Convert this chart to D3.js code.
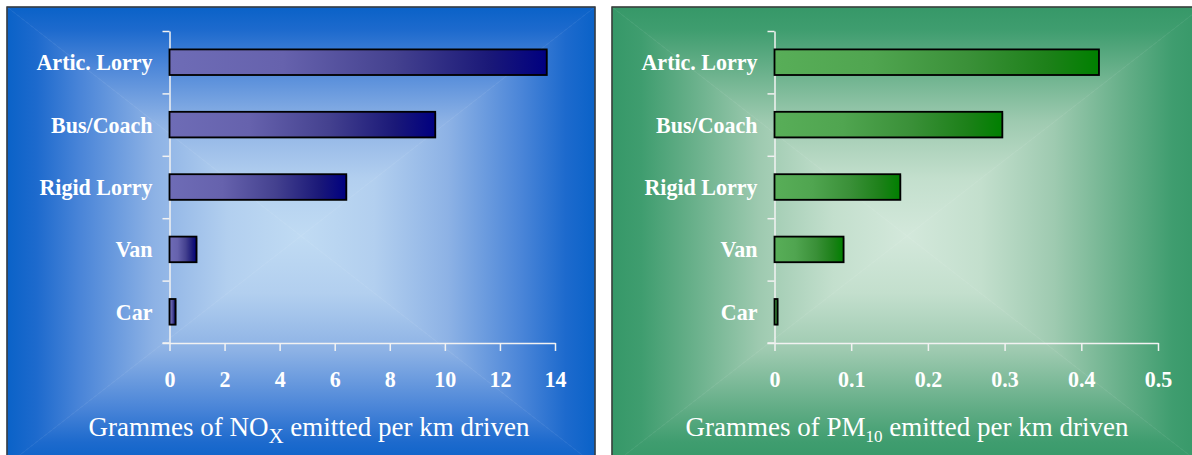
<!DOCTYPE html>
<html>
<head>
<meta charset="utf-8">
<script src="https://cdn.jsdelivr.net/npm/d3@7"></script>
<style>
  html, body { margin: 0; padding: 0; background: #ffffff; }
  svg { display: block; }
  text { font-family: "Liberation Serif", "Times New Roman", serif; fill: #ffffff; }
</style>
</head>
<body>
<svg id="chart" width="1192" height="455"></svg>
<script>
// Vehicle categories, top to bottom
const categories = ["Artic. Lorry", "Bus/Coach", "Rigid Lorry", "Van", "Car"];
// Grammes of NOx emitted per km driven
const noxValues = [13.7, 9.65, 6.42, 0.98, 0.22];
// Grammes of PM10 emitted per km driven
const pm10Values = [0.423, 0.297, 0.164, 0.09, 0.004];
// Axis tick values
const noxTicks = [0, 2, 4, 6, 8, 10, 12, 14];
const pm10Ticks = [0, 0.1, 0.2, 0.3, 0.4, 0.5];

const svg = d3.select("#chart");
const defs = svg.append("defs");
const TALL = 1.09; // slight vertical stretch of the bold labels

// Rectangular "from centre" gradient built out of four triangles
function panelBackground(id, box, stops) {
  const g = svg.append("g");
  const cx = box.x + box.w / 2, cy = box.y + box.h / 2;
  const x0 = box.x, x1 = box.x + box.w, y0 = box.y, y1 = box.y + box.h;
  const sides = [
    { name: "t", pts: [[x0, y0], [x1, y0], [cx, cy]], from: [cx, y0] },
    { name: "b", pts: [[x0, y1], [x1, y1], [cx, cy]], from: [cx, y1] },
    { name: "l", pts: [[x0, y0], [x0, y1], [cx, cy]], from: [x0, cy] },
    { name: "r", pts: [[x1, y0], [x1, y1], [cx, cy]], from: [x1, cy] }
  ];
  sides.forEach(s => {
    const gid = id + "-" + s.name;
    const lg = defs.append("linearGradient")
      .attr("id", gid)
      .attr("gradientUnits", "userSpaceOnUse")
      .attr("x1", s.from[0]).attr("y1", s.from[1])
      .attr("x2", cx).attr("y2", cy);
    stops.forEach(([o, c]) => lg.append("stop").attr("offset", o).attr("stop-color", c));
    g.append("path")
      .attr("d", d3.line()(s.pts) + "Z")
      .attr("fill", `url(#${gid})`)
      .attr("stroke", `url(#${gid})`)
      .attr("stroke-width", 0.6);
  });
  svg.append("rect")
    .attr("x", box.x).attr("y", box.y)
    .attr("width", box.w).attr("height", box.h)
    .attr("fill", "none")
    .attr("stroke", "#3a3a3a")
    .attr("stroke-width", 1.5);
}

function barGradient(id, stops) {
  const lg = defs.append("linearGradient").attr("id", id)
    .attr("x1", 0).attr("y1", 0).attr("x2", 1).attr("y2", 0);
  stops.forEach(([o, c]) => lg.append("stop").attr("offset", o).attr("stop-color", c));
}

barGradient("bar-blue", [[0, "#6e6cb6"], [0.3, "#6662ad"], [0.6, "#44418f"], [0.85, "#1a1878"], [1, "#000080"]]);
barGradient("bar-green", [[0, "#58ae58"], [0.3, "#50a550"], [0.6, "#3a9038"], [0.85, "#1c8018"], [1, "#008000"]]);

const blueStops = [[0, "#0a62c8"], [0.1, "#1d6acd"], [0.25, "#4a85d8"], [0.5, "#8db2e5"], [0.75, "#b2cfef"], [1, "#c0dbf3"]];
const greenStops = [[0, "#369868"], [0.1, "#3f9d6f"], [0.25, "#62ad86"], [0.5, "#9ecab0"], [0.75, "#c3dfcd"], [1, "#d3e8db"]];

panelBackground("bg-nox", { x: 7, y: 7, w: 588, h: 458 }, blueStops);
panelBackground("bg-pm", { x: 612, y: 7, w: 590, h: 458 }, greenStops);

function drawChart(opts) {
  const { values, ticks, x0, x1, fill, fmt, titleX, titleMain, titleSub, titleRest, subSize, subShift } = opts;
  const yTop = 31, yBot = 343;
  const g = svg.append("g");

  const x = d3.scaleLinear().domain([ticks[0], ticks[ticks.length - 1]]).range([x0, x1]);
  const y = d3.scaleBand().domain(categories).range([yTop, yBot])
    .paddingInner(0.59).paddingOuter(0.295);
  const yEdge = d3.scaleLinear().domain([0, categories.length]).range([yBot, yTop]);

  // Category axis: line with ticks between categories
  const yAxis = g.append("g")
    .attr("transform", `translate(${x0},0)`)
    .call(d3.axisLeft(yEdge).tickValues(d3.range(categories.length + 1))
      .tickFormat("").tickSize(7).tickSizeOuter(0));
  yAxis.select(".domain").attr("stroke", "#f2f2f2").attr("stroke-width", 1.5);
  yAxis.selectAll(".tick line").attr("stroke", "#f2f2f2").attr("stroke-width", 1.5);

  // Value axis
  const xAxis = g.append("g")
    .attr("transform", `translate(0,${yBot})`)
    .call(d3.axisBottom(x).tickValues(ticks).tickFormat(fmt).tickSize(8).tickSizeOuter(0));
  xAxis.select(".domain").attr("stroke", "#f2f2f2").attr("stroke-width", 1.5);
  xAxis.selectAll(".tick line").attr("stroke", "#f2f2f2").attr("stroke-width", 1.5);
  xAxis.selectAll(".tick text")
    .attr("fill", "#ffffff")
    .attr("y", 0)
    .attr("dy", 0)
    .attr("transform", `translate(0,44) scale(1,${TALL})`)
    .style("font-family", "'Liberation Serif', 'Times New Roman', serif")
    .style("font-weight", "bold")
    .style("font-size", "22px");
  // axis baseline extends a little left of the category axis
  g.append("line")
    .attr("x1", x0 - 7).attr("x2", x0)
    .attr("y1", yBot).attr("y2", yBot)
    .attr("stroke", "#f2f2f2").attr("stroke-width", 1.5);

  // Bars, with a faint drop shadow
  g.selectAll(".shadow").data(values).join("rect")
    .attr("x", x(0) + 1)
    .attr("y", (d, i) => y(categories[i]) + 1)
    .attr("width", d => x(d) - x(0))
    .attr("height", y.bandwidth())
    .attr("fill", "rgba(40,40,60,0.3)");
  g.selectAll(".bar").data(values).join("rect")
    .attr("x", x(0))
    .attr("y", (d, i) => y(categories[i]))
    .attr("width", d => x(d) - x(0))
    .attr("height", y.bandwidth())
    .attr("fill", `url(#${fill})`)
    .attr("stroke", "#000000")
    .attr("stroke-width", 1.8);

  // Category labels
  g.selectAll(".cat").data(categories).join("text")
    .attr("transform", d => `translate(${x0 - 17},${y(d) + y.bandwidth() / 2 + 8}) scale(1,${TALL})`)
    .attr("text-anchor", "end")
    .style("font-weight", "bold")
    .style("font-size", "22px")
    .text(d => d);

  // Axis title with subscript
  const t = g.append("text")
    .attr("x", titleX).attr("y", 436)
    .attr("text-anchor", "middle")
    .style("font-size", "27px");
  t.append("tspan").text(titleMain);
  t.append("tspan").attr("dy", subShift).style("font-size", subSize).text(titleSub);
  t.append("tspan").attr("dy", -subShift).text(titleRest);
}

drawChart({
  values: noxValues, ticks: noxTicks, x0: 169.5, x1: 555, fill: "bar-blue",
  fmt: d3.format("d"), titleX: 309,
  titleMain: "Grammes of NO", titleSub: "X", titleRest: " emitted per km driven",
  subSize: "21px", subShift: 7
});

drawChart({
  values: pm10Values, ticks: pm10Ticks, x0: 774.5, x1: 1158, fill: "bar-green",
  fmt: d => d === 0 ? "0" : d3.format(".1f")(d), titleX: 907,
  titleMain: "Grammes of PM", titleSub: "10", titleRest: " emitted per km driven",
  subSize: "17px", subShift: 6
});
</script>
</body>
</html>
